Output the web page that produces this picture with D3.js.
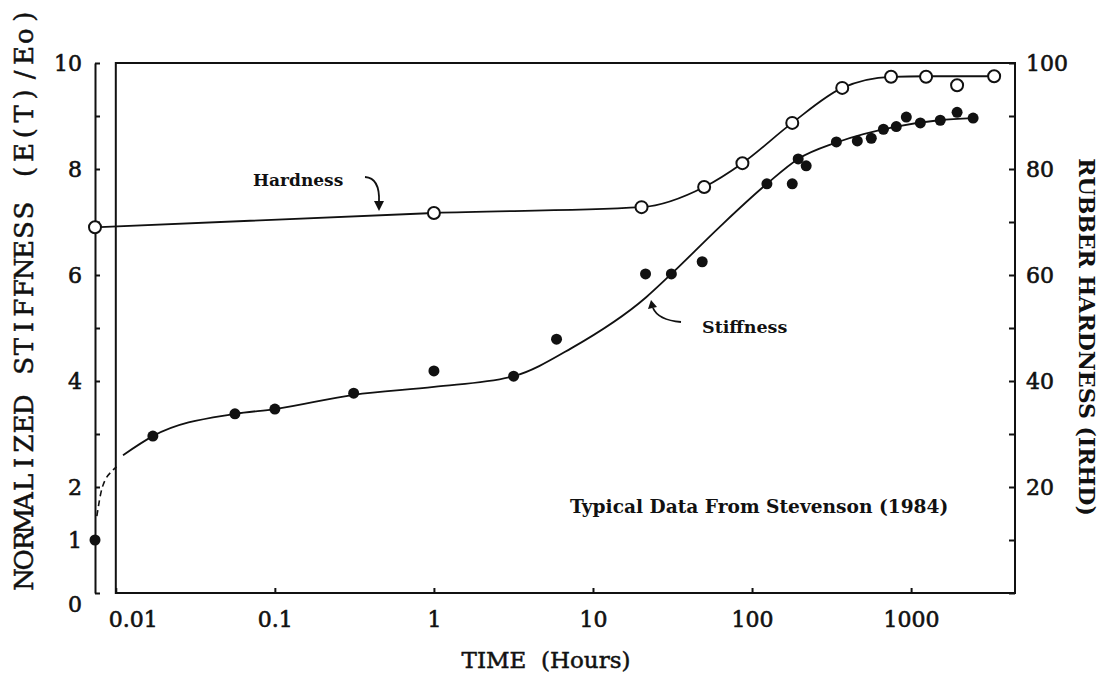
<html>
<script src='https://d3js.org/d3.v7.min.js'></script>
<style>
  body {margin: 0; background: #fff;}
  text {fill: #111;}
  .tick text {font-family: 'DejaVu Serif'; font-size: 22px; stroke: #111; stroke-width: 0.6px;}
  .ann {font-family: 'DejaVu Serif'; font-weight: bold;}
</style>
<body onload='init()'>
<svg width=1102 height=676>
</svg>
<script>
// stiffness points: time (hours), E(T)/Eo
var stiffTime = [0.0074, 0.0171, 0.0561, 0.1, 0.313, 1.0, 3.17, 5.9, 21.4, 31.1, 48.6,
                 124, 179, 195, 219, 339, 459, 562, 670, 807, 933, 1143, 1525, 1946, 2454];
var stiffVal  = [1.0, 2.96, 3.38, 3.47, 3.77, 4.19, 4.09, 4.79, 6.02, 6.02, 6.25,
                 7.72, 7.72, 8.19, 8.06, 8.51, 8.53, 8.58, 8.75, 8.8, 8.98, 8.87, 8.92, 9.07, 8.96];

// hardness points: time (hours), IRHD
var hardTime = [0.0074, 1.0, 20.2, 50, 87, 179, 369, 748, 1242, 1946, 3327];
var hardVal  = [69, 71.7, 72.8, 76.6, 81.1, 88.7, 95.3, 97.4, 97.4, 95.8, 97.5];

// hand drawn fit curves
var stiffCurveTime = [0.0111, 0.0171, 0.0561, 0.1, 0.313, 1.0, 3.17, 7.33, 21.6, 31.1, 62.2,
                      124, 195, 339, 807, 1500, 2454];
var stiffCurveVal  = [2.6, 2.96, 3.38, 3.47, 3.74, 3.89, 4.09, 4.62, 5.58, 6.02, 6.9,
                      7.72, 8.19, 8.5, 8.8, 8.92, 8.96];
var stiffDashTime = [0.0076, 0.0082, 0.0096, 0.0101];
var stiffDashVal  = [1.45, 1.98, 2.32, 2.38];
var hardCurveTime = [0.0074, 1.0, 20.2, 50, 87, 179, 369, 748, 1242, 3327];
var hardCurveVal  = [69, 71.7, 72.8, 76.6, 81.1, 88.7, 95.3, 97.4, 97.5, 97.5];

var xTicks = [0.01, 0.1, 1, 10, 100, 1000];
var xTickLabels = ['0.01', '0.1', '1', '10', '100', '1000'];
var leftTicks = [0, 1, 2, 3, 4, 5, 6, 7, 8, 9, 10];
var leftLabels = [0, 1, 2, 4, 6, 8, 10];
var rightTicks = [0, 10, 20, 30, 40, 50, 60, 70, 80, 90, 100];
var rightLabels = [20, 40, 60, 80, 100];

function init() {
  var svg = d3.select('svg');

  var x = d3.scaleLog().domain([0.0074, 4500]).range([95, 1015]);
  var yL = d3.scaleLinear().domain([0, 10]).range([593, 63]);
  var yR = d3.scaleLinear().domain([0, 100]).range([593, 63]);

  // frame
  svg.append('rect')
    .attr('x', x(0.01)).attr('y', yL(10))
    .attr('width', x(4500) - x(0.01)).attr('height', yL(0) - yL(10))
    .attr('fill', 'none').attr('stroke', '#111').attr('stroke-width', 2);

  // left axis (detached, at time origin)
  var gl = svg.append('g')
    .attr('transform', 'translate(' + x(0.0074) + ',0)')
    .call(d3.axisLeft(yL).tickValues(leftTicks).tickSizeInner(-5).tickSizeOuter(0).tickPadding(13)
      .tickFormat(function(d) { return leftLabels.indexOf(d) >= 0 ? d : ''; }));
  gl.selectAll('path, line').attr('stroke', '#111').attr('stroke-width', 2);
  gl.selectAll('.tick text').filter(function(d) { return d === 0; }).attr('dy', '0.85em');

  // right axis
  var gr = svg.append('g')
    .attr('transform', 'translate(' + x(4500) + ',0)')
    .call(d3.axisRight(yR).tickValues(rightTicks).tickSizeInner(-6).tickSizeOuter(0).tickPadding(11)
      .tickFormat(function(d) { return rightLabels.indexOf(d) >= 0 ? d : ''; }));
  gr.select('.domain').remove();
  gr.selectAll('line').attr('stroke', '#111').attr('stroke-width', 2);

  // bottom axis
  var gb = svg.append('g')
    .attr('transform', 'translate(0,' + yL(0) + ')')
    .call(d3.axisBottom(x).tickValues(xTicks).tickSizeInner(-5).tickSizeOuter(0).tickPadding(18)
      .tickFormat(function(d, i) { return xTickLabels[i]; }));
  gb.select('.domain').remove();
  gb.selectAll('line').attr('stroke', '#111').attr('stroke-width', 2);
  gb.selectAll('.tick text').filter(function(d) { return d === 0.01; }).attr('dx', 17);

  // curves
  var lineL = d3.line().x(function(d) { return x(d[0]); }).y(function(d) { return yL(d[1]); })
    .curve(d3.curveMonotoneX);
  var lineR = d3.line().x(function(d) { return x(d[0]); }).y(function(d) { return yR(d[1]); })
    .curve(d3.curveMonotoneX);

  svg.append('path').datum(d3.zip(stiffCurveTime, stiffCurveVal))
    .attr('d', lineL).attr('fill', 'none').attr('stroke', '#111').attr('stroke-width', 1.8);
  svg.append('path').datum(d3.zip(stiffDashTime, stiffDashVal))
    .attr('d', lineL).attr('fill', 'none').attr('stroke', '#111').attr('stroke-width', 1.6)
    .attr('stroke-dasharray', '6,4');
  svg.append('path').datum(d3.zip(hardCurveTime, hardCurveVal))
    .attr('d', lineR).attr('fill', 'none').attr('stroke', '#111').attr('stroke-width', 1.8);

  // points
  svg.append('g').selectAll('circle')
    .data(d3.zip(stiffTime, stiffVal))
    .enter().append('circle')
    .attr('cx', function(d) { return x(d[0]); })
    .attr('cy', function(d) { return yL(d[1]); })
    .attr('r', 5.5).attr('fill', '#111');

  svg.append('g').selectAll('circle')
    .data(d3.zip(hardTime, hardVal))
    .enter().append('circle')
    .attr('cx', function(d) { return x(d[0]); })
    .attr('cy', function(d) { return yR(d[1]); })
    .attr('r', 6).attr('fill', '#fff').attr('stroke', '#111').attr('stroke-width', 2);

  // annotations
  svg.append('text').attr('class', 'ann').attr('x', 253).attr('y', 186)
    .style('font-size', '17px').text('Hardness');
  svg.append('text').attr('class', 'ann').attr('x', 702).attr('y', 333)
    .style('font-size', '17.5px').text('Stiffness');
  svg.append('text').attr('class', 'ann').attr('x', 570).attr('y', 513)
    .style('font-size', '18.6px').text('Typical Data From Stevenson (1984)');

  var arrows = svg.append('g').attr('fill', 'none').attr('stroke', '#111').attr('stroke-width', 1.8);
  arrows.append('path').attr('d', 'M365,177 Q380,178 379,202');
  svg.append('path').attr('d', 'M374,201 L384,201 L379,211 Z').attr('fill', '#111');
  arrows.append('path').attr('d', 'M681,322 Q658,320 653,308');
  svg.append('path').attr('d', 'M648,309 L657,307 L651,300 Z').attr('fill', '#111');

  // axis titles
  // left title: typewriter style, one glyph per fixed-width cell
  var leftTitle = 'NORMALIZED STIFFNESS (E(T)/Eo)';
  var cell = 19.4;
  var x0 = -cell * (leftTitle.length - 1) / 2;
  svg.append('text')
    .attr('transform', 'translate(33,298) rotate(-90)')
    .attr('x', leftTitle.split('').map(function(c, i) { return (x0 + i * cell).toFixed(1); }).join(' '))
    .attr('text-anchor', 'middle')
    .style('font-family', 'DejaVu Serif').style('font-size', '26px')
    .style('stroke', '#111').style('stroke-width', '0.5px')
    .text(leftTitle);
  svg.append('text')
    .attr('transform', 'translate(1079,337) rotate(90)')
    .attr('text-anchor', 'middle')
    .style('font-family', 'DejaVu Serif').style('font-weight', 'bold').style('font-size', '22px')
    .text('RUBBER HARDNESS (IRHD)');
  svg.append('text')
    .attr('x', 546).attr('y', 668)
    .attr('text-anchor', 'middle')
    .style('font-family', 'DejaVu Serif').style('font-size', '23px')
    .style('stroke', '#111').style('stroke-width', '0.5px')
    .text('TIME\u00a0\u00a0(Hours)');
}
</script>
</body>
</html>
